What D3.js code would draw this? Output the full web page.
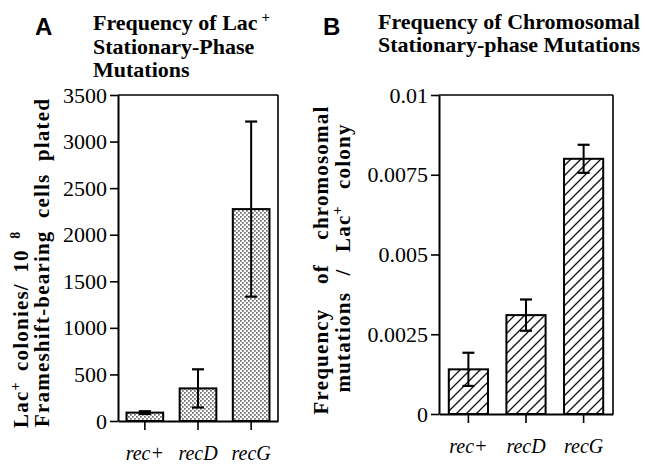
<!DOCTYPE html>
<html><head><meta charset="utf-8">
<script src="https://cdn.jsdelivr.net/npm/d3@7"></script>
<style>body{margin:0;background:#fff} svg{display:block}</style>
</head><body>
<svg id="c" width="646" height="465"></svg>
<script>
// ---- data ----
const categories = ["rec+", "recD", "recG"];
const lacMeans = [90, 350, 2275];
const lacErrors = [15, 205, 940];
const lacTicks = [0, 500, 1000, 1500, 2000, 2500, 3000, 3500];
const chromMeans = [0.0014, 0.0031, 0.0080];
const chromErrors = [0.00052, 0.00049, 0.00044];
const chromTicks = [0, 0.0025, 0.005, 0.0075, 0.01];
const chromTickLabels = ["0", "0.0025", "0.005", "0.0075", "0.01"];

const SERIF = "Liberation Serif, Times New Roman, serif";
const SANS = "Liberation Sans, Arial, sans-serif";
const svg = d3.select("#c");

// ---- patterns ----
const defs = svg.append("defs");
const dots = defs.append("pattern").attr("id", "dots").attr("patternUnits", "userSpaceOnUse")
  .attr("width", 4).attr("height", 4);
dots.append("rect").attr("width", 4).attr("height", 4).attr("fill", "#fff");
dots.append("rect").attr("x", 0.2).attr("y", 0.2).attr("width", 1.4).attr("height", 1.4).attr("fill", "#222");
dots.append("rect").attr("x", 2.2).attr("y", 2.2).attr("width", 1.4).attr("height", 1.4).attr("fill", "#222");
const hatch = defs.append("pattern").attr("id", "hatch").attr("patternUnits", "userSpaceOnUse")
  .attr("width", 10).attr("height", 10);
hatch.append("rect").attr("width", 10).attr("height", 10).attr("fill", "#fff");
hatch.append("path").attr("d", "M-1,1 L1,-1 M0,10 L10,0 M9,11 L11,9")
  .attr("stroke", "#111").attr("stroke-width", 1.3);

function drawPanel(o) {
  const x = d3.scaleBand().domain(categories).range(o.xr).paddingInner(o.pi).paddingOuter(o.po);
  const y = d3.scaleLinear().domain(o.dom).range(o.yr);
  const g = svg.append("g");

  g.selectAll("rect.bar").data(categories).join("rect").attr("class", "bar")
    .attr("x", d => x(d)).attr("width", x.bandwidth())
    .attr("y", (d, i) => y(o.means[i])).attr("height", (d, i) => y(0) - y(o.means[i]))
    .attr("fill", o.fill).attr("stroke", "#000").attr("stroke-width", 2);

  const cap = 6;
  categories.forEach((c, i) => {
    const cx = x(c) + x.bandwidth() / 2;
    const hi = y(o.means[i] + o.errs[i]), lo = y(o.means[i] - o.errs[i]);
    g.append("line").attr("x1", cx).attr("x2", cx).attr("y1", hi).attr("y2", lo)
      .attr("stroke", "#000").attr("stroke-width", 2);
    [hi, lo].forEach(yy => g.append("line").attr("x1", cx - cap).attr("x2", cx + cap)
      .attr("y1", yy).attr("y2", yy).attr("stroke", "#000").attr("stroke-width", 2.2));
  });

  g.append("line").attr("x1", o.xr[0]).attr("x2", o.xr[1]).attr("y1", o.yr[1]).attr("y2", o.yr[1])
    .attr("stroke", "#000").attr("stroke-width", 1.6);
  g.append("line").attr("x1", o.xr[1]).attr("x2", o.xr[1]).attr("y1", o.yr[1]).attr("y2", o.yr[0])
    .attr("stroke", "#000").attr("stroke-width", 1.6);

  const ya = g.append("g").attr("transform", `translate(${o.xr[0]},0)`)
    .call(d3.axisLeft(y).tickValues(o.ticks).tickFormat((d, i) => o.tickLabels[i])
      .tickSize(8).tickPadding(3).tickSizeOuter(0));
  ya.attr("font-family", SERIF).attr("font-size", 22);
  ya.select(".domain").attr("stroke-width", 2);
  ya.selectAll(".tick line").attr("stroke-width", 1.6);
  ya.selectAll("text").attr("fill", "#000");

  const xa = g.append("g").attr("transform", `translate(0,${o.yr[0]})`)
    .call(d3.axisBottom(x).tickSize(9).tickSizeOuter(0));
  xa.attr("font-family", SERIF).attr("font-size", 20).attr("font-style", "italic");
  xa.select(".domain").attr("stroke-width", 2);
  xa.selectAll(".tick line").attr("stroke-width", 1.6);
  xa.selectAll("text").attr("fill", "#000").attr("y", 39).attr("dy", 0);
}

drawPanel({ xr: [118, 278], yr: [421, 95], pi: 0.31, po: 0.16, dom: [0, 3500],
  means: lacMeans, errs: lacErrors, ticks: lacTicks, tickLabels: lacTicks.map(String), fill: "url(#dots)" });
drawPanel({ xr: [439, 613], yr: [414, 95], pi: 0.32, po: 0.17, dom: [0, 0.01],
  means: chromMeans, errs: chromErrors, ticks: chromTicks, tickLabels: chromTickLabels, fill: "url(#hatch)" });

// ---- panel letters ----
svg.append("text").attr("x", 35).attr("y", 35).text("A")
  .attr("font-family", SANS).attr("font-weight", "bold").attr("font-size", 24);
svg.append("text").attr("x", 323).attr("y", 35).text("B")
  .attr("font-family", SANS).attr("font-weight", "bold").attr("font-size", 24);

// ---- titles ----
function title(xp, yp, parts) {
  const t = svg.append("text").attr("x", xp).attr("y", yp)
    .attr("font-family", SERIF).attr("font-weight", "bold").attr("font-size", 22);
  parts.forEach(p => {
    const s = t.append("tspan").text(p.t);
    if (p.sup) s.attr("font-size", 15).attr("dy", -8).attr("dx", 4);
  });
}
title(93, 29.5, [{ t: "Frequency of Lac" }, { t: "+", sup: true }]);
title(93, 53.5, [{ t: "Stationary-Phase" }]);
title(93, 77, [{ t: "Mutations" }]);
title(378, 28.5, [{ t: "Frequency of Chromosomal" }]);
title(378, 52, [{ t: "Stationary-phase Mutations" }]);

// ---- y labels ----
function ylabel(tx, ty, anchor, parts, ws) {
  const t = svg.append("text").attr("transform", `translate(${tx},${ty}) rotate(-90)`)
    .attr("text-anchor", anchor).attr("font-family", SERIF).attr("font-weight", "bold")
    .attr("font-size", 21).style("letter-spacing", "1.2px").style("word-spacing", ws + "px");
  parts.forEach(p => {
    const s = t.append("tspan").text(p.t);
    if (p.sup) s.attr("font-size", 14).attr("dy", -8);
    if (p.down) s.attr("dy", 8);
  });
}
ylabel(28, 428, "start", [{ t: "Lac" }, { t: "+", sup: true }, { t: " colonies/ 10 ", down: true }, { t: "8", sup: true }], 4);
ylabel(49, 427, "start", [{ t: "Frameshift-bearing cells plated" }], 6);
ylabel(328, 260, "middle", [{ t: "Frequency of chromosomal" }], 18);
ylabel(350, 258, "middle", [{ t: "mutations / Lac" }, { t: "+", sup: true }, { t: " colony", down: true }], 10);
</script>
</body></html>
